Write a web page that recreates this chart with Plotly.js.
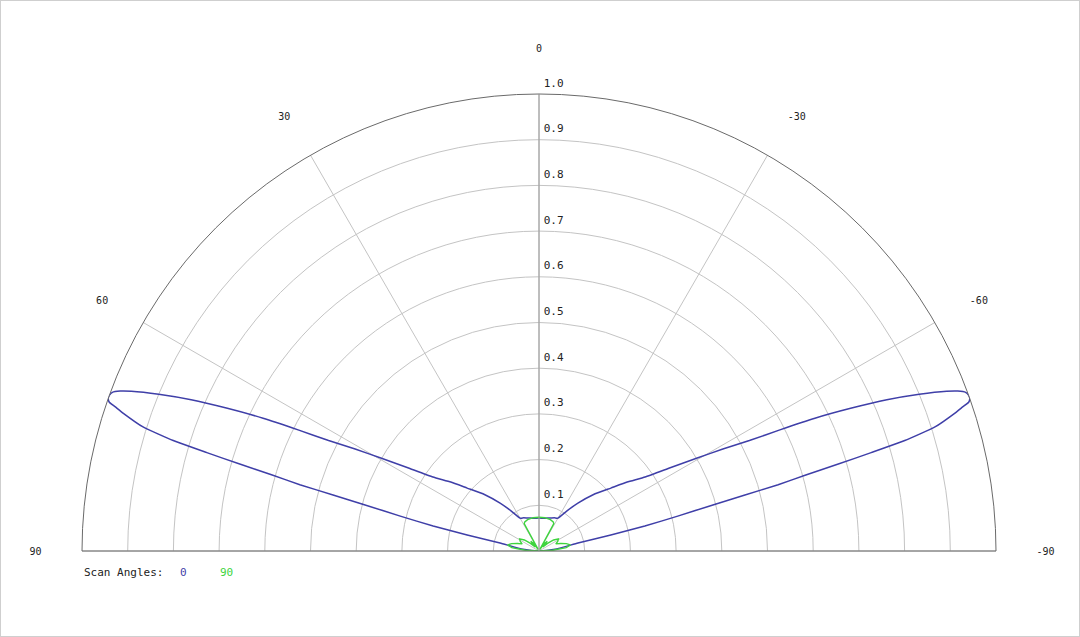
<!DOCTYPE html>
<html><head><meta charset="utf-8">
<script src="https://cdn.plot.ly/plotly-3.0.1.min.js"></script>
<style>html,body{margin:0;padding:0;background:#fff}#chart{width:1080px;height:637px}</style>
</head><body><div id="chart"></div>
<script>
const scanNames = ["0", "90"];
const scanColors = ["#3f3fa8", "#3ed43e"];

const theta0 = [-90, -84, -78.5, -77.5, -76.7, -75.9, -75.2, -74.8, -74.5, -74.1, -73.8, -73.5, -73.2, -72.6, -71.65, -71.2, -70.9, -70.5,
  -70.1, -69.6, -69.1, -68.6, -67.6, -66.5, -65.4, -64.3, -63.3, -62.3, -61.0, -59.5, -57.6, -55.1, -52, -48.8, -44, -39.1, -35, -29.9, -25, -20, -10,
  0,
  10, 20, 25, 29.9, 35, 39.1, 44, 48.8, 52, 55.1, 57.6, 59.5, 61.0, 62.3, 63.3, 64.3, 65.4, 66.5, 67.6, 68.6, 69.1, 69.6, 70.1,
  70.5, 70.9, 71.2, 71.65, 72.6, 73.2, 73.5, 73.8, 74.1, 74.5, 74.8, 75.2, 75.9, 76.7, 77.5, 78.5, 84, 90];
const r0 = [0.0, 0.035, 0.087, 0.161, 0.238, 0.313, 0.390, 0.467, 0.543, 0.607, 0.682, 0.758, 0.836, 0.908, 0.959, 0.980, 0.995, 1.000,
  1.000, 0.996, 0.981, 0.958, 0.900, 0.830, 0.750, 0.670, 0.590, 0.520, 0.460, 0.400, 0.340, 0.283, 0.245, 0.209, 0.172, 0.135, 0.108, 0.083, 0.080, 0.077, 0.073,
  0.072,
  0.073, 0.077, 0.080, 0.083, 0.108, 0.135, 0.172, 0.209, 0.245, 0.283, 0.340, 0.400, 0.460, 0.520, 0.590, 0.670, 0.750, 0.830, 0.900, 0.958, 0.981, 0.996, 1.000,
  1.000, 0.995, 0.980, 0.959, 0.908, 0.836, 0.758, 0.682, 0.607, 0.543, 0.467, 0.390, 0.313, 0.238, 0.161, 0.087, 0.035, 0.0];

const theta90 = [-90, -87, -83, -79, -75, -71, -67, -63, -58, -53, -48, -44, -40, -35, -30, -28.5, -26, -20, -10,
  0, 10, 20, 26, 28.5, 30, 35, 40, 44, 48, 53, 58, 63, 67, 71, 75, 79, 83, 87, 90];
const r90 = [0.0, 0.030, 0.060, 0.070, 0.062, 0.050, 0.040, 0.046, 0.050, 0.040, 0.025, 0.012, 0.028, 0.020, 0.004, 0.068, 0.071, 0.073, 0.074,
  0.074, 0.074, 0.073, 0.071, 0.068, 0.004, 0.020, 0.028, 0.012, 0.025, 0.040, 0.050, 0.046, 0.040, 0.050, 0.062, 0.070, 0.060, 0.030, 0.0];

const angTickVals = [90, 60, 30, 0, -30, -60, -90];
const angTickText = ["90", "60", "30", "0", "-30", "-60", "-90"];
const radTickVals = [0.1, 0.2, 0.3, 0.4, 0.5, 0.6, 0.7, 0.8, 0.9, 1.0];
const radTickText = ["0.1", "0.2", "0.3", "0.4", "0.5", "0.6", "0.7", "0.8", "0.9", "1.0"];
const radLabelTheta = 0;
const legendTitle = "Scan Angles:";

const FONT = "DejaVu Sans Mono, monospace";

const traces = [
  {type: "scatterpolar", mode: "lines", theta: theta0, r: r0, name: scanNames[0],
   line: {color: scanColors[0], width: 1.5, shape: "spline", smoothing: 0.4}, hoverinfo: "skip"},
  {type: "scatterpolar", mode: "lines", theta: theta90, r: r90, name: scanNames[1],
   line: {color: scanColors[1], width: 1.4}, hoverinfo: "skip"},
  {type: "scatterpolar", mode: "markers+text", cliponaxis: false,
   theta: radTickVals.map(() => radLabelTheta), r: radTickVals, text: radTickText,
   textposition: "top right", marker: {size: 6, opacity: 0},
   textfont: {family: FONT, size: 11, color: "#222"}, hoverinfo: "skip", showlegend: false}
];

const annotations = [
  {xref: "paper", yref: "paper", x: 82 / 1080, y: 1 - 572 / 637, xanchor: "left", yanchor: "middle",
   text: legendTitle, showarrow: false, font: {family: FONT, size: 11, color: "#222"}}
];
const legendX = [183, 226];
scanNames.forEach((n, i) => annotations.push({
  xref: "paper", yref: "paper", x: legendX[i] / 1080, y: 1 - 572 / 637, xanchor: "center", yanchor: "middle",
  text: n, showarrow: false, font: {family: FONT, size: 11, color: scanColors[i]}
}));

const layout = {
  width: 1080, height: 637,
  margin: {l: 0, r: 0, t: 0, b: 0},
  paper_bgcolor: "#fff",
  showlegend: false,
  font: {family: FONT, size: 10, color: "#222"},
  polar: {
    domain: {x: [82 / 1080, 996 / 1080], y: [86 / 637, 543 / 637]},
    sector: [0, 180],
    bgcolor: "#fff",
    angularaxis: {
      direction: "counterclockwise", rotation: 90, thetaunit: "degrees",
      tickmode: "array", tickvals: angTickVals, ticktext: angTickText,
      ticks: "outside", ticklen: 38, tickcolor: "rgba(0,0,0,0)",
      showline: true, linecolor: "#6a6a6a", linewidth: 1,
      showgrid: true, gridcolor: "#c4c4c4", gridwidth: 1,
      tickfont: {family: FONT, size: 10, color: "#222"}
    },
    radialaxis: {
      range: [0, 1], angle: 90, side: "clockwise",
      tickmode: "array", tickvals: radTickVals, showticklabels: false,
      ticks: "", showline: true, linecolor: "#9a9a9a", linewidth: 1,
      showgrid: true, gridcolor: "#c4c4c4", gridwidth: 1
    }
  },
  annotations: annotations,
  shapes: [{type: "rect", xref: "paper", yref: "paper", x0: 0, x1: 1, y0: 0, y1: 1,
            line: {color: "#cfcfcf", width: 2}}]
};

Plotly.newPlot("chart", traces, layout, {staticPlot: true, displayModeBar: false});
</script>
</body></html>
